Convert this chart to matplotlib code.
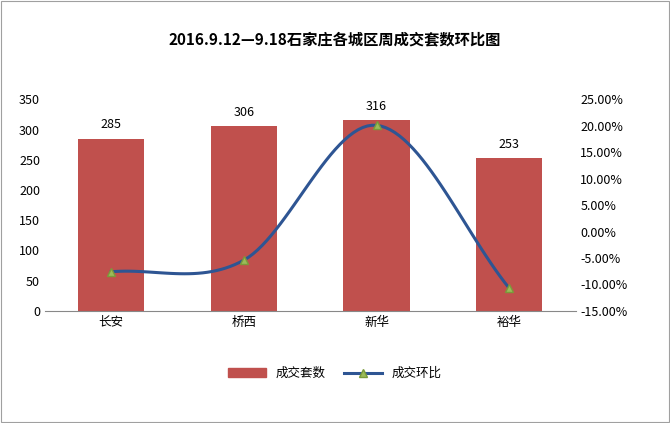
import numpy as np
import matplotlib.pyplot as plt
from matplotlib.patches import Rectangle

plt.rcParams['font.family'] = ['Noto Sans CJK SC', 'DejaVu Sans']

districts = ['长安', '桥西', '新华', '裕华']
deals = [285, 306, 316, 253]
ratio = [-7.6, -5.4, 20.1, -10.7]

fig = plt.figure(figsize=(6.7, 4.23), dpi=100)
fig.patches.append(Rectangle((0.002, 0.002), 0.996, 0.995, transform=fig.transFigure,
                             fill=False, edgecolor='#a0a0a0', linewidth=0.8))
ax = fig.add_axes([0.067, 0.265, 0.792, 0.50])
x = np.arange(len(districts))
bars = ax.bar(x, deals, width=0.5, color='#c0504d', label='成交套数')
for xi, v in zip(x, deals):
    ax.text(xi, v + 12, str(v), ha='center', va='bottom', fontsize=9)
ax.set_ylim(0, 350)
ax.set_yticks(range(0, 351, 50))
ax.set_xlim(-0.5, 3.5)
ax.set_xticks(x)
ax.set_xticklabels(districts)
ax.tick_params(labelsize=9, length=0)
for s in ['top', 'right', 'left']:
    ax.spines[s].set_visible(False)
ax.spines['bottom'].set_color('#888888')

ax2 = ax.twinx()
# smooth curve through the points (Catmull-Rom)
px = np.array(x, float)
py = np.array(ratio, float)
P = np.vstack([px, py]).T
P = np.vstack([2 * P[0] - P[1], P, 2 * P[-1] - P[-2]])
cx, cy = [], []
for i in range(1, len(P) - 2):
    p0, p1, p2, p3 = P[i - 1], P[i], P[i + 1], P[i + 2]
    for t in np.linspace(0, 1, 30):
        pt = 0.5 * ((2 * p1) + (-p0 + p2) * t + (2 * p0 - 5 * p1 + 4 * p2 - p3) * t ** 2
                    + (-p0 + 3 * p1 - 3 * p2 + p3) * t ** 3)
        cx.append(pt[0]); cy.append(pt[1])
ax2.plot(cx, cy, color='#2e5593', linewidth=2.2)
ax2.plot(px, py, linestyle='none', marker='^', markersize=6, color='#9bbb59',
         markeredgecolor='#7a9a3a')
ax2.set_ylim(-15, 25)
ax2.set_yticks(np.arange(-15, 26, 5))
ax2.set_yticklabels(['%.2f%%' % v for v in np.arange(-15, 26, 5)])
ax2.tick_params(labelsize=9, length=0)
for s in ['top', 'right', 'left', 'bottom']:
    ax2.spines[s].set_visible(False)

fig.text(0.5, 0.895, '2016.9.12—9.18石家庄各城区周成交套数环比图', ha='center',
         fontsize=11, fontweight='bold')

from matplotlib.lines import Line2D
handles = [Rectangle((0, 0), 1, 1, color='#c0504d'),
           Line2D([], [], color='#2e5593', linewidth=2.2, marker='^',
                  markerfacecolor='#9bbb59', markeredgecolor='#7a9a3a')]
fig.legend(handles, ['成交套数', '成交环比'], loc='center', bbox_to_anchor=(0.5, 0.117),
           ncol=2, frameon=False, fontsize=9, handlelength=3, columnspacing=1.5)

fig.savefig('out.png', dpi=100)
